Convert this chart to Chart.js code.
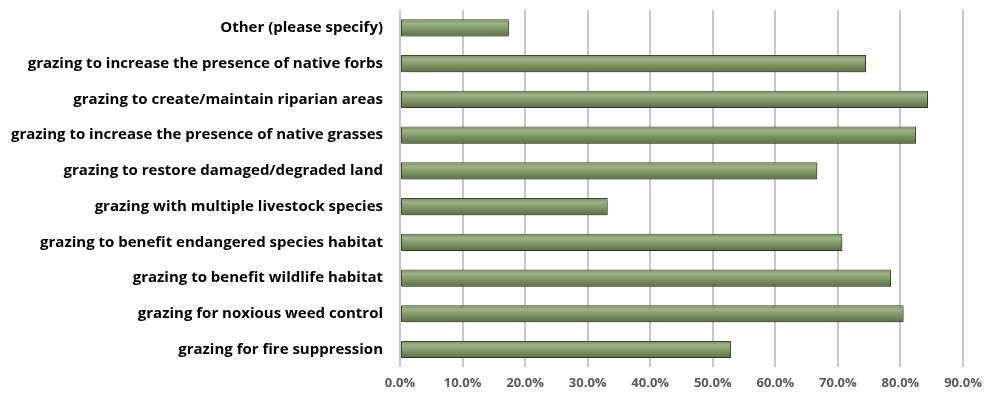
<!DOCTYPE html>
<html lang="en">
<head>
  <meta charset="UTF-8">
  <title>Grazing practices</title>
  <script src="https://cdn.jsdelivr.net/npm/chart.js"></script>
  <style>
    html, body { margin: 0; padding: 0; background: #fff; }
    .wrap { width: 984px; height: 395px; }
  </style>
</head>
<body>
  <div class="wrap"><canvas id="grazingChart" width="984" height="395"></canvas></div>

  <script>
    // categories, top to bottom
    const categories = [
      'Other (please specify)',
      'grazing to increase the presence of native forbs',
      'grazing to create/maintain riparian areas',
      'grazing to increase the presence of native grasses',
      'grazing to restore damaged/degraded land',
      'grazing with multiple livestock species',
      'grazing to benefit endangered species habitat',
      'grazing to benefit wildlife habitat',
      'grazing for noxious weed control',
      'grazing for fire suppression'
    ];
    // percent of respondents
    const percentValues = [17.4, 74.5, 84.4, 82.5, 66.7, 33.2, 70.7, 78.5, 80.5, 52.9];
    const tickValues = [0, 10, 20, 30, 40, 50, 60, 70, 80, 90];

    // give each bar its own vertical gradient + soft shadow
    const barLook = {
      id: 'barLook',
      beforeDatasetsDraw(chart) {
        const c = chart.ctx;
        const meta = chart.getDatasetMeta(0);
        meta.data.forEach(bar => {
          const top = bar.y - bar.height / 2;
          const g = c.createLinearGradient(0, top, 0, top + bar.height);
          g.addColorStop(0, '#738b5b');
          g.addColorStop(0.25, '#9db488');
          g.addColorStop(0.55, '#7f9866');
          g.addColorStop(1, '#5b7045');
          bar.options.backgroundColor = g;
        });
        c.save();
        c.shadowColor = 'rgba(0,0,0,0.35)';
        c.shadowBlur = 3;
        c.shadowOffsetX = 2;
        c.shadowOffsetY = 2;
      },
      afterDatasetsDraw(chart) {
        chart.ctx.restore();
      }
    };

    const ctx = document.getElementById('grazingChart').getContext('2d');
    new Chart(ctx, {
      type: 'bar',
      data: {
        labels: categories,
        datasets: [{
          data: percentValues,
          // scriptable so each bar keeps its own options object
          backgroundColor: c => '#7a9361',
          borderColor: '#3b4a2d',
          borderWidth: 1,
          borderSkipped: false,
          barPercentage: 0.8,
          categoryPercentage: 0.6
        }]
      },
      plugins: [barLook],
      options: {
        indexAxis: 'y',
        responsive: false,
        animation: false,
        layout: { padding: { top: 10, right: 0, bottom: -4, left: 0 } },
        plugins: {
          legend: { display: false },
          tooltip: { enabled: false }
        },
        scales: {
          x: {
            min: 0,
            max: 90,
            afterBuildTicks: axis => { axis.ticks = tickValues.map(v => ({ value: v })); },
            afterFit: axis => { axis.paddingRight = 21; axis.paddingLeft = 0; },
            grid: { color: '#c8c8c8', lineWidth: 2, drawTicks: false },
            border: { display: false },
            ticks: {
              padding: 8,
              color: '#595959',
              font: { family: 'Open Sans', size: 13, weight: 'bold' },
              callback: v => v.toFixed(1) + '%'
            }
          },
          y: {
            afterFit: axis => { axis.width = 400; axis.paddingTop = 0; axis.paddingBottom = 0; },
            grid: { display: false },
            border: { display: false },
            ticks: {
              padding: 9,
              color: '#000',
              font: { family: 'Open Sans', size: 15, weight: 'bold' }
            }
          }
        }
      }
    });
  </script>
</body>
</html>
